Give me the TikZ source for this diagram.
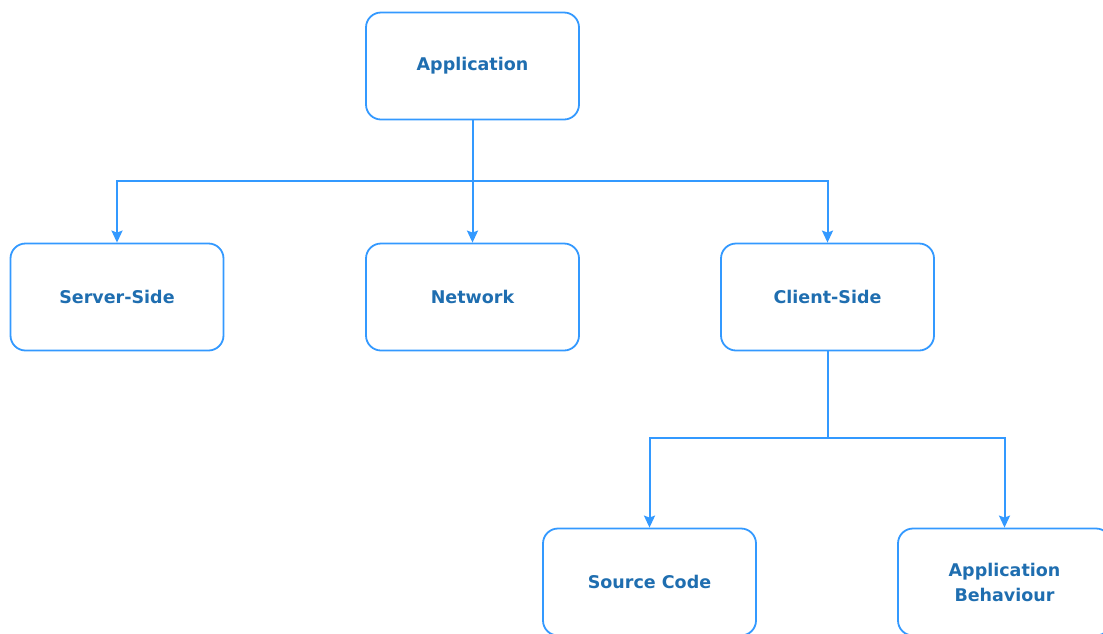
\documentclass[tikz,border=0pt]{standalone}
\usepackage{fontspec}
\setmainfont{DejaVu Sans}
\usetikzlibrary{arrows.meta}
\definecolor{edge}{HTML}{3399FF}
\definecolor{label}{HTML}{1F6EB0}
\tikzset{
  box/.style={draw=edge, line width=1.8pt, rounded corners=15pt, fill=white,
    minimum width=213pt, minimum height=107pt, inner sep=0pt, align=center,
    text=label, font=\fontsize{17.5}{25}\selectfont\bfseries},
  link/.style={draw=edge, line width=2pt},
  arrow/.style={link, -{Stealth[length=12pt, width=11pt, inset=2pt]}}
}
\begin{document}
\begin{tikzpicture}[x=1pt, y=-1pt]
  \useasboundingbox (0,0) rectangle (1103,633);
  \clip (0,0) rectangle (1103,633);
  \fill[white] (0,0) rectangle (1103,633);

  \node[box] (app)     at (472.5,66)  {Application};
  \node[box] (server)  at (117,297)   {Server-Side};
  \node[box] (network) at (472.5,297) {Network};
  \node[box] (client)  at (827.5,297) {Client-Side};
  \node[box] (source)  at (649.5,582) {Source Code};
  \node[box] (behav)   at (1004.5,582) {Application\\Behaviour};

  % first level fan-out
  \coordinate (bus1) at (472.5,181);
  \draw[link] (app.south) -- (bus1);
  \draw[arrow] (bus1) -| (server.north);
  \draw[arrow] (bus1) -- (network.north);
  \draw[arrow] (bus1) -| (client.north);

  % second level fan-out
  \coordinate (bus2) at (827.5,438);
  \draw[link] (client.south) -- (bus2);
  \draw[arrow] (bus2) -| (source.north);
  \draw[arrow] (bus2) -| (behav.north);
\end{tikzpicture}
\end{document}
